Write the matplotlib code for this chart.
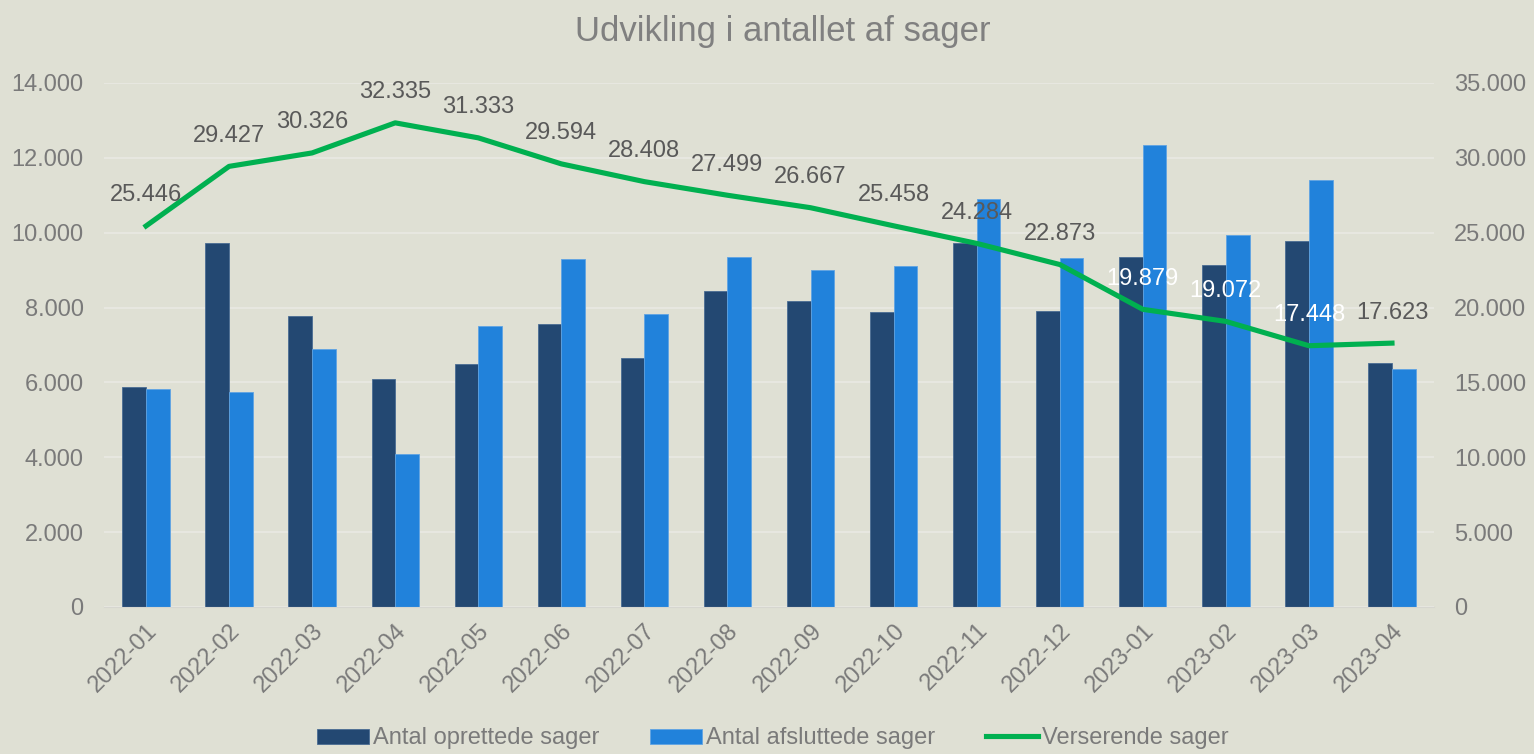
import numpy as np
import matplotlib
matplotlib.use("Agg")
import matplotlib.pyplot as plt
from matplotlib.ticker import FuncFormatter

plt.rcParams['font.family'] = ['Liberation Sans', 'DejaVu Sans']

# data
maaneder = ['2022-01', '2022-02', '2022-03', '2022-04', '2022-05', '2022-06',
            '2022-07', '2022-08', '2022-09', '2022-10', '2022-11', '2022-12',
            '2023-01', '2023-02', '2023-03', '2023-04']
oprettede = [5880, 9720, 7770, 6090, 6490, 7560, 6650, 8440,
             8180, 7880, 9720, 7910, 9350, 9140, 9780, 6520]
afsluttede = [5820, 5740, 6890, 4090, 7510, 9300, 7830, 9350,
              9000, 9110, 10900, 9320, 12340, 9940, 11410, 6360]
verserende = [25446, 29427, 30326, 32335, 31333, 29594, 28408, 27499,
              26667, 25458, 24284, 22873, 19879, 19072, 17448, 17623]

bg = '#DFE0D4'
gray_tick = '#7A7A7A'
gray_lbl = '#595959'

def dk(v, pos=None):
    return f"{int(round(v)):,}".replace(',', '.')

fig = plt.figure(figsize=(15.34, 7.54), dpi=100, facecolor=bg)
ax = fig.add_axes([0.0681, 0.195, 0.8664, 0.695])
ax.set_facecolor(bg)
ax2 = ax.twinx()
ax2.set_facecolor('none')

x = np.arange(len(maaneder))
w = 0.285
ax.bar(x - w / 2, oprettede, w, color='#234872', edgecolor='#4A6C93', linewidth=0.6,
       label='Antal oprettede sager', zorder=2)
ax.bar(x + w / 2, afsluttede, w, color='#2182DB', edgecolor='#5FA3E3', linewidth=0.6,
       label='Antal afsluttede sager', zorder=2)

ax.set_ylim(0, 14000)
ax.set_yticks(np.arange(0, 14001, 2000))
ax.yaxis.set_major_formatter(FuncFormatter(dk))
ax.grid(axis='y', color='#E9E9E3', linewidth=1.2, zorder=0)
ax.set_axisbelow(True)
ax.set_xlim(-0.5, len(maaneder) - 0.5)
ax.set_xticks(x)
ax.set_xticklabels(maaneder, rotation=45, ha='right', rotation_mode='anchor')

ax2.plot(x, verserende, color='#00B050', linewidth=3.7, label='Verserende sager',
         solid_joinstyle='round', zorder=3)
ax2.set_ylim(0, 35000)
ax2.set_yticks(np.arange(0, 35001, 5000))
ax2.yaxis.set_major_formatter(FuncFormatter(dk))

for i, v in enumerate(verserende):
    c = 'white' if i in (12, 13, 14) else gray_lbl
    ax2.annotate(dk(v), (x[i], v), xytext=(0, 22), textcoords='offset points',
                 ha='center', va='center', fontsize=17, color=c)

for a in (ax, ax2):
    for s in a.spines.values():
        s.set_visible(False)
    a.tick_params(axis='both', length=0, labelsize=17, colors=gray_tick, pad=15)
ax.spines['bottom'].set_visible(True)
ax.spines['bottom'].set_color('#D6D6D0')
ax.tick_params(axis='x', pad=9)

fig.text(0.51, 0.958, 'Udvikling i antallet af sager', ha='center', va='center',
         fontsize=25, color='#808080')

h1, l1 = ax.get_legend_handles_labels()
h2, l2 = ax2.get_legend_handles_labels()
leg = fig.legend(h1 + h2, l1 + l2, loc='lower center', bbox_to_anchor=(0.504, -0.022),
                 ncol=3, frameon=False, fontsize=17, handlelength=2.2, handleheight=0.6,
                 handletextpad=0.17, columnspacing=2.15)
for t in leg.get_texts():
    t.set_color(gray_tick)

fig.savefig('out.png', dpi=100, facecolor=bg)
